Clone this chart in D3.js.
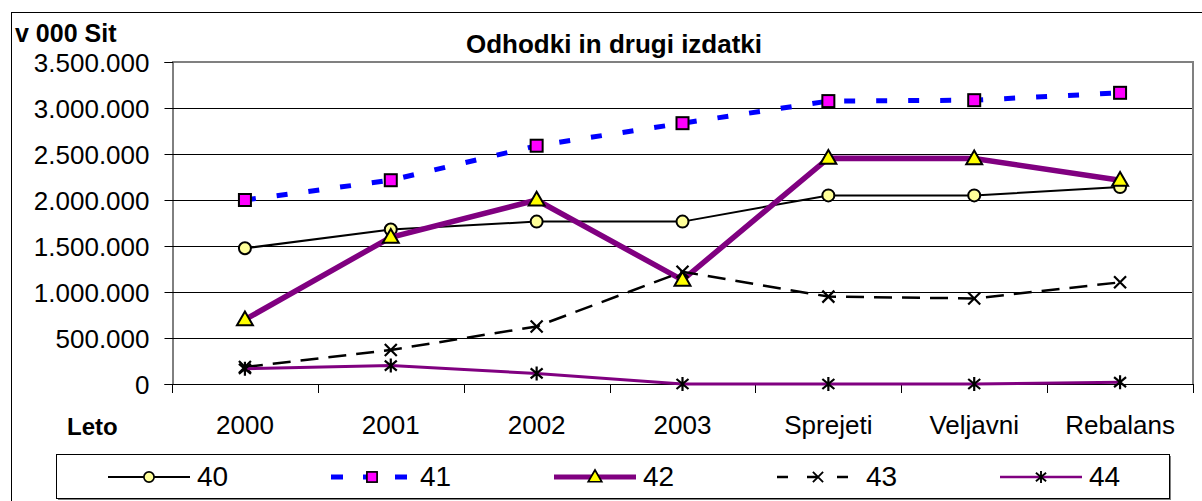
<!DOCTYPE html>
<html>
<head>
<meta charset="utf-8">
<script src="https://cdn.jsdelivr.net/npm/d3@7"></script>
<style>
  body { margin: 0; background: #fff; }
  text { font-family: Arial, "Liberation Sans", sans-serif; fill: #000; }
</style>
</head>
<body>
<svg width="1202" height="501"></svg>
<script>
// kategorije in serije (v 000 Sit)
const categories = ["2000", "2001", "2002", "2003", "Sprejeti", "Veljavni", "Rebalans"];
const s40 = [1475000, 1680000, 1765000, 1765000, 2050000, 2050000, 2140000];
const s41 = [2000000, 2215000, 2590000, 2835000, 3075000, 3085000, 3165000];
const s42 = [700000, 1595000, 2000000, 1130000, 2455000, 2450000, 2215000];
const s43 = [185000, 370000, 625000, 1220000, 950000, 930000, 1105000];
const s44 = [165000, 200000, 115000, 0, 0, 0, 20000];
const yTicks = [0, 500000, 1000000, 1500000, 2000000, 2500000, 3000000, 3500000];
const seriesNames = ["40", "41", "42", "43", "44"];

let series = [
    {name: seriesNames[0], values: s40, stroke: "#000", width: 2, dash: null, marker: "circle", fill: "#FFFF99"},
    {name: seriesNames[1], values: s41, stroke: "#0000FF", width: 5, dash: "11,21", marker: "square", fill: "#FF00FF"},
    {name: seriesNames[2], values: s42, stroke: "#800080", width: 5.5, dash: null, marker: "triangle", fill: "#FFFF00"},
    {name: seriesNames[3], values: s43, stroke: "#000", width: 2.5, dash: "18,10", marker: "x", fill: "none"},
    {name: seriesNames[4], values: s44, stroke: "#800080", width: 3, dash: null, marker: "star", fill: "none"}
];

let svg = d3.select("svg");

let plotLeft = 172, plotRight = 1193, plotTop = 62, plotBottom = 384;

let x = d3.scaleBand().domain(categories).range([plotLeft, plotRight]);
let y = d3.scaleLinear().domain([0, 3500000]).range([plotBottom, plotTop]);

let fmt = d3.formatLocale({decimal: ",", thousands: ".", grouping: [3], currency: ["", ""]}).format(",.0f");

// outer frame
svg.append("rect")
    .attr("x", 11.5).attr("y", 12.5)
    .attr("width", 1300).attr("height", 600)
    .attr("fill", "none").attr("stroke", "#000");

// gridlines
svg.append("g")
    .selectAll("line")
    .data(yTicks.slice(1, -1))
    .enter().append("line")
    .attr("x1", plotLeft).attr("x2", plotRight)
    .attr("y1", d => Math.round(y(d)) + 0.5).attr("y2", d => Math.round(y(d)) + 0.5)
    .attr("stroke", "#000").attr("stroke-width", 1);

// plot border top / right (grey)
svg.append("path")
    .attr("d", "M" + plotLeft + "," + plotTop + "H" + plotRight + "V" + plotBottom)
    .attr("fill", "none").attr("stroke", "#808080").attr("stroke-width", 2);

// y axis
let yAxis = svg.append("g")
    .attr("transform", "translate(" + (plotLeft + 0.5) + ",0)")
    .call(d3.axisLeft(y).tickValues(yTicks).tickFormat(fmt).tickSize(8).tickPadding(15));
yAxis.select(".domain").attr("stroke", "#000");
yAxis.selectAll(".tick line").attr("stroke", "#000");
yAxis.selectAll(".tick text")
    .attr("font-size", 26).attr("font-family", "Arial, 'Liberation Sans', sans-serif")
    .attr("fill", "#000").attr("dy", "0.36em");

// x axis
let xAxis = svg.append("g")
    .attr("transform", "translate(0," + (plotBottom + 0.5) + ")")
    .call(d3.axisBottom(x).tickSize(0).tickPadding(0));
xAxis.select(".domain").attr("d", "M" + plotLeft + ",0H" + plotRight).attr("stroke", "#000");
xAxis.selectAll(".tick text")
    .attr("font-size", 26).attr("font-family", "Arial, 'Liberation Sans', sans-serif")
    .attr("fill", "#000").attr("y", 49).attr("dy", 0);

// tick marks at category boundaries
let bounds = categories.map(c => x(c)).concat([plotRight]);
svg.append("g")
    .selectAll("line")
    .data(bounds)
    .enter().append("line")
    .attr("x1", d => Math.round(d) + 0.5).attr("x2", d => Math.round(d) + 0.5)
    .attr("y1", plotBottom).attr("y2", plotBottom + 9)
    .attr("stroke", "#000");

let cx = c => x(c) + x.bandwidth() / 2;

let line = d3.line()
    .x((d, i) => cx(categories[i]))
    .y(d => y(d));

function drawMarker(g, type, fill, px, py, k) {
    k = k || 1;
    let m = g.append("g").attr("transform", "translate(" + px + "," + py + ")scale(" + k + ")");
    if (type === "circle") {
        m.append("circle").attr("r", 6)
            .attr("fill", fill).attr("stroke", "#000").attr("stroke-width", 2);
    } else if (type === "square") {
        m.append("rect").attr("x", -6).attr("y", -6).attr("width", 12).attr("height", 12)
            .attr("fill", fill).attr("stroke", "#000").attr("stroke-width", 2);
    } else if (type === "triangle") {
        m.append("path").attr("d", d3.symbol(d3.symbolTriangle, 110)())
            .attr("transform", "translate(0,1)")
            .attr("fill", fill).attr("stroke", "#000").attr("stroke-width", 2);
    } else if (type === "x") {
        m.append("path")
            .attr("d", "M-6,-6L6,6M-6,6L6,-6")
            .attr("stroke", "#000").attr("stroke-width", 2.2).attr("fill", "none");
    } else if (type === "star") {
        m.append("path")
            .attr("d", "M-6,-5L6,5M-6,5L6,-5M0,-7L0,7")
            .attr("stroke", "#000").attr("stroke-width", 2.2).attr("fill", "none");
    }
}

let plot = svg.append("g");
series.forEach(function (s) {
    let g = plot.append("g");
    g.append("path")
        .attr("d", line(s.values))
        .attr("fill", "none")
        .attr("stroke", s.stroke)
        .attr("stroke-width", s.width)
        .attr("stroke-dasharray", s.dash);
    s.values.forEach(function (v, i) {
        drawMarker(g, s.marker, s.fill, cx(categories[i]), y(v));
    });
});

// texts
svg.append("text").attr("x", 15).attr("y", 42)
    .attr("font-size", 25).attr("font-weight", "bold").text("v 000 Sit");
svg.append("text").attr("x", 614).attr("y", 53).attr("text-anchor", "middle")
    .attr("font-size", 26).attr("font-weight", "bold").text("Odhodki in drugi izdatki");
svg.append("text").attr("x", 67).attr("y", 435)
    .attr("font-size", 24).attr("font-weight", "bold").text("Leto");

// legend
let legend = svg.append("g");
legend.append("rect").attr("x", 58).attr("y", 456).attr("width", 1113).attr("height", 44)
    .attr("fill", "#808080");
legend.append("rect").attr("x", 56.5).attr("y", 454.5).attr("width", 1113).attr("height", 44)
    .attr("fill", "#fff").attr("stroke", "#000");

series.forEach(function (s, i) {
    let c = 149 + i * 223, ly = 477;
    let g = legend.append("g");
    g.append("line")
        .attr("x1", c - 41).attr("x2", c + 41)
        .attr("y1", ly).attr("y2", ly)
        .attr("stroke", s.stroke)
        .attr("stroke-width", i === 2 ? 5 : (i === 4 ? 2.5 : s.width))
        .attr("stroke-dasharray", s.dash ? (i === 1 ? "12,20" : "11,19") : null);
    drawMarker(g, s.marker, s.fill, c, ly, 0.85);
    g.append("text").attr("x", c + 48).attr("y", 486)
        .attr("font-size", 28).text(s.name);
});
</script>
</body>
</html>
